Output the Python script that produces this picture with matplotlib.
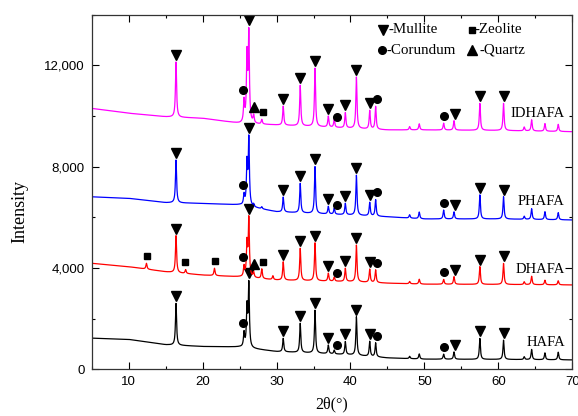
import numpy as np
import matplotlib.pyplot as plt
from matplotlib.ticker import MultipleLocator, FuncFormatter

# peak positions (2theta)
peak_2theta = [12.4, 16.4, 17.7, 21.6, 25.6, 26.0, 26.25, 26.9, 28.0, 29.5,
               30.9, 33.2, 35.2, 37.0, 37.8, 39.3, 40.8, 42.6, 43.4, 48.0,
               49.3, 52.6, 54.0, 57.5, 60.7, 63.5, 64.5, 66.3, 68.1]

# background level at a few 2theta values
bg_2theta = [5, 10, 15, 20, 25, 30, 35, 40, 45, 50, 60, 70]

hafa_bg = [1230, 1180, 970, 900, 880, 700, 640, 570, 450, 400, 390, 370]
hafa_peaks = [0, 1650, 0, 0, 550, 1550, 2500, 0, 0, 0,
              530, 1150, 1690, 340, 150, 510, 1520, 590, 550, 90,
              200, 200, 290, 825, 760, 110, 400, 270, 300]

dhafa_bg = [4185, 4050, 3850, 3720, 3650, 3525, 3490, 3460, 3400, 3360, 3350, 3330]
dhafa_peaks = [230, 1460, 150, 290, 400, 1300, 2300, 200, 380, 150,
               720, 1270, 1500, 310, 160, 520, 1450, 520, 500, 90,
               190, 190, 300, 700, 830, 110, 330, 180, 160]

phafa_bg = [6810, 6750, 6580, 6550, 6490, 6220, 6150, 6090, 6020, 5935, 5935, 5895]
phafa_peaks = [0, 1690, 0, 0, 400, 1650, 2650, 100, 80, 0,
               590, 1160, 1850, 300, 240, 450, 1580, 530, 650, 130,
               260, 350, 280, 950, 880, 120, 420, 310, 280]

idhafa_bg = [10300, 10110, 9970, 9910, 9710, 9645, 9585, 9515, 9450, 9450, 9430, 9380]
idhafa_peaks = [0, 2180, 0, 0, 850, 2600, 3500, 300, 180, 0,
                750, 1600, 2300, 430, 310, 600, 2030, 730, 900, 130,
                240, 270, 370, 1060, 1070, 150, 440, 300, 280]

# phase markers (2theta where the symbol sits)
mullite_marks = [16.4, 26.25, 30.9, 33.2, 35.2, 37.0, 39.3, 40.8, 42.6, 54.1, 57.5, 60.7]
corundum_marks = [25.4, 38.2, 43.65, 52.7]
samples = [
    # name, colour, bg, peaks, zeolite marks, quartz marks, label y
    ("HAFA", "black", hafa_bg, hafa_peaks, [], [], 1050),
    ("DHAFA", "#ff0000", dhafa_bg, dhafa_peaks, [12.5, 17.65, 21.7, 28.1], [27.0], 3920),
    ("PHAFA", "#0000ff", phafa_bg, phafa_peaks, [], [], 6620),
    ("IDHAFA", "#ff00ff", idhafa_bg, idhafa_peaks, [28.1], [27.0], 10100),
]

serif = ["Liberation Serif", "DejaVu Serif"]
plt.rcParams["font.family"] = ["Liberation Sans", "DejaVu Sans"]

fig = plt.figure(figsize=(5.78, 4.16), dpi=100)
ax = fig.add_axes([0.1587, 0.1123, 0.8314, 0.8524])

tt = np.arange(5, 70.001, 0.02)
hw = 0.09
off = 280


def pattern(bg, peaks):
    y = np.interp(tt, bg_2theta, bg)
    for p, h in zip(peak_2theta, peaks):
        if h > 0:
            y = y + h * hw**2 / ((tt - p)**2 + hw**2)
    return y


def mark(y, xs, m, ms):
    for x in xs:
        sel = (tt >= x - 0.3) & (tt <= x + 0.3)
        ax.plot(x, y[sel].max() + off, marker=m, color="black", ms=ms, ls="none")


for name, col, bg, peaks, zeo, qtz, ly in samples:
    y = pattern(bg, peaks)
    ax.plot(tt, y, color=col, lw=0.9)
    mark(y, mullite_marks, "v", 7.5)
    mark(y, corundum_marks, "o", 5.5)
    mark(y, zeo, "s", 5)
    mark(y, qtz, "^", 7)
    ax.text(69.0, ly, name, ha="right", va="center", fontsize=10.5, family=serif)

# legend of phases
leg = [("v", 0.606, 0.957, 0.617, "-Mullite", 7.5), ("s", 0.791, 0.957, 0.797, "-Zeolite", 5),
       ("o", 0.604, 0.900, 0.614, "-Corundum", 5.5), ("^", 0.791, 0.900, 0.806, "-Quartz", 7)]
for m, mx, my, tx, txt, ms in leg:
    ax.plot(mx, my, marker=m, color="black", ms=ms, transform=ax.transAxes, clip_on=False)
    ax.text(tx, my, txt, transform=ax.transAxes, va="center", ha="left", fontsize=10.8, family=serif)

ax.set_xlim(5, 70)
ax.set_ylim(0, 14000)
ax.xaxis.set_major_locator(MultipleLocator(10))
ax.xaxis.set_minor_locator(MultipleLocator(5))
ax.yaxis.set_major_locator(MultipleLocator(4000))
ax.yaxis.set_minor_locator(MultipleLocator(2000))
ax.yaxis.set_major_formatter(FuncFormatter(lambda v, p: f"{int(v):,}"))
ax.tick_params(which="both", direction="in", top=True, right=True, labelsize=9.5, width=0.8)
ax.tick_params(which="major", length=4.8, pad=5)
ax.tick_params(which="minor", length=2.5)
for s in ax.spines.values():
    s.set_linewidth(0.9)
    s.set_color("#333333")

ax.set_xlabel("2θ(°)", fontsize=11.5, family=serif, va="center")
ax.set_ylabel("Intensity", fontsize=13, family=serif, va="center")
ax.xaxis.set_label_coords(0.4994, -0.10)
ax.yaxis.set_label_coords(-0.150, 0.444)

fig.savefig("out.png", dpi=100)
